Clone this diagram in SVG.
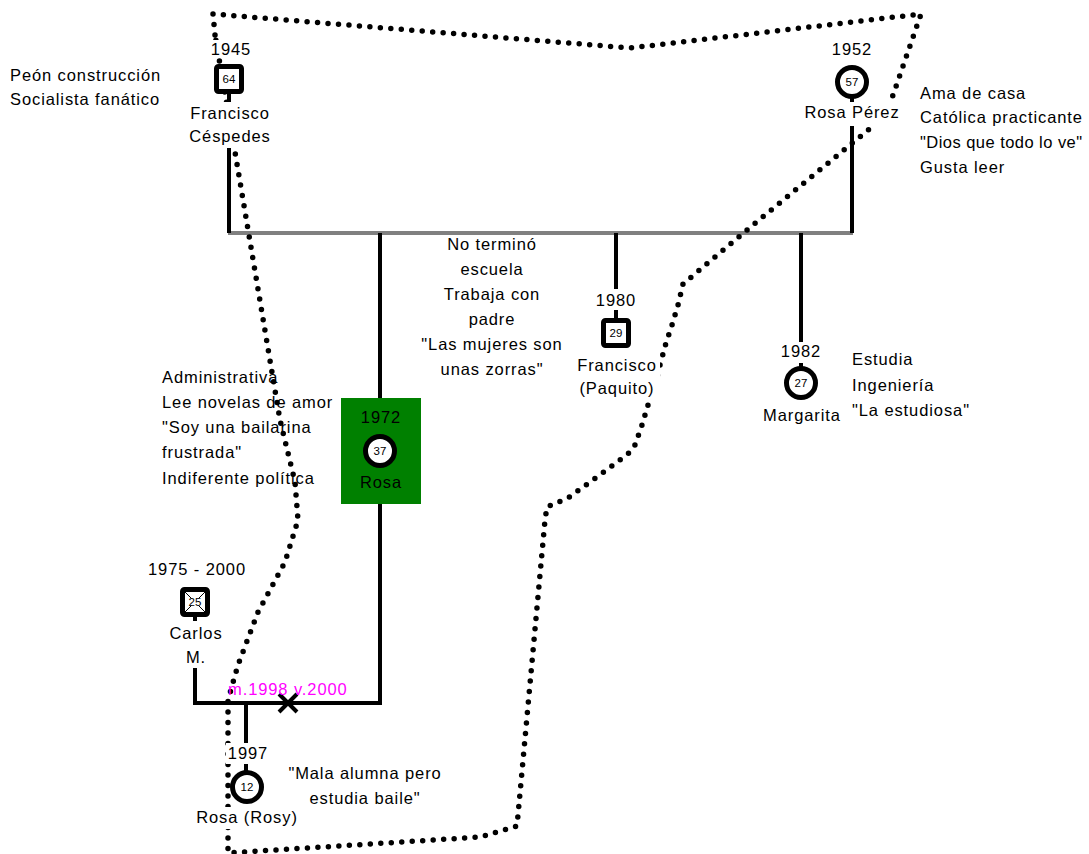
<svg xmlns="http://www.w3.org/2000/svg" width="1089" height="854" viewBox="0 0 1089 854">
<style>
.t{font-family:"Liberation Sans",Arial,sans-serif;font-size:16.5px;letter-spacing:0.9px;fill:#000}
.c{text-anchor:middle}
.n{font-family:"Liberation Sans",Arial,sans-serif;font-size:11.5px;fill:#000;text-anchor:middle}
.m{fill:#ff00ff}
.ln{fill:none;stroke:#000;stroke-width:4}
.gr{fill:none;stroke:#808080;stroke-width:4}
.lb{fill:#fff}
.sq{fill:#fff;stroke:#000;stroke-width:5}
.ci{fill:#fff;stroke:#000;stroke-width:5}
.dot{fill:none;stroke:#000;stroke-width:5.5;stroke-linecap:round;stroke-linejoin:round;stroke-dasharray:0 10.5}
.thin{stroke:#000;stroke-width:1}
</style>
<rect width="1089" height="854" fill="#fff"/>
<g id="connectors">
<path class="gr" d="M228,233 H853"/>
<path class="ln" d="M229,93 V233"/>
<path class="ln" d="M852,97 V233"/>
<path class="ln" d="M380,233 V704"/>
<path class="ln" d="M616,233 V320"/>
<path class="ln" d="M801,233 V370"/>
<path class="ln" d="M195,616 V703 H382"/>
<path class="ln" d="M246,703 V772"/>
<path class="ln" d="M279,694 L297,712 M297,694 L279,712"/>
</g>
<g id="boundary">
<path class="dot" d="M215,35 L213,14 L630,48 L921,14 L892,98 L873,126 L753,225 L683,284 L678,305 L672,325 L666,343 L660,365 L655,385 L648,405 L642,425 L635,445 L628,454 L608,469 L568,498 L547,507 L545,520 L517,826 L480,837 L228,853 L228,700 L238,665 L258,612 L285,562 L298,520 L295,482 L280,420 L235,152 Z"/>
</g>
<g id="francisco-cespedes">
<rect class="lb" x="211" y="40" width="40" height="18"/>
<text class="t c" x="231" y="55">1945</text>
<rect class="sq" x="216.5" y="66.5" width="25" height="25" rx="2"/>
<text class="n" x="229" y="83">64</text>
<rect class="lb" x="187" y="102" width="86" height="46"/>
<text class="t c" x="230" y="119">Francisco</text>
<text class="t c" x="230" y="142">Céspedes</text>
</g>
<g id="rosa-perez">
<rect class="lb" x="831" y="40" width="42" height="18"/>
<text class="t c" x="852" y="55">1952</text>
<circle class="ci" cx="852" cy="82" r="14.5"/>
<text class="n" x="852" y="86">57</text>
<rect class="lb" x="802" y="102" width="99" height="24"/>
<text class="t c" x="852" y="118">Rosa Pérez</text>
</g>
<g id="rosa">
<rect x="341" y="398" width="80" height="106" fill="#008000"/>
<text class="t c" x="381" y="423">1972</text>
<circle class="ci" cx="380" cy="451" r="14.5"/>
<text class="n" x="380" y="455">37</text>
<text class="t c" x="381" y="488">Rosa</text>
</g>
<g id="francisco-paquito">
<rect class="lb" x="595" y="289" width="42" height="21"/>
<text class="t c" x="616" y="306">1980</text>
<rect class="sq" x="603.5" y="320.5" width="25" height="25" rx="2"/>
<text class="n" x="616" y="337">29</text>
<rect class="lb" x="574" y="356" width="86" height="44"/>
<text class="t c" x="617" y="371">Francisco</text>
<text class="t c" x="617" y="394">(Paquito)</text>
</g>
<g id="margarita">
<rect class="lb" x="780" y="342" width="42" height="21"/>
<text class="t c" x="801" y="357">1982</text>
<circle class="ci" cx="801" cy="383" r="14.5"/>
<text class="n" x="801" y="387">27</text>
<text class="t c" x="802" y="421">Margarita</text>
</g>
<g id="carlos">
<rect class="lb" x="146" y="560" width="102" height="20"/>
<text class="t c" x="197" y="575">1975 - 2000</text>
<rect class="sq" x="182.5" y="589.5" width="25" height="25" rx="2"/>
<path class="thin" d="M185,592 l6.5,6.5 M205,592 l-6.5,6.5 M185,612 l6.5,-6.5 M205,612 l-6.5,-6.5"/>
<text class="n" x="195" y="606">25</text>
<rect class="lb" x="166" y="621" width="60" height="47"/>
<text class="t c" x="196" y="639">Carlos</text>
<text class="t c" x="196" y="663">M.</text>
</g>
<g id="rosy">
<rect class="lb" x="226" y="743" width="44" height="21"/>
<text class="t c" x="248" y="759">1997</text>
<circle class="ci" cx="247" cy="787" r="14.5"/>
<text class="n" x="247" y="791">12</text>
<rect class="lb" x="194" y="807" width="106" height="22"/>
<text class="t c" x="247" y="823">Rosa (Rosy)</text>
</g>
<g id="marriage-label">
<text class="t m" x="228" y="695">m.1998 v.2000</text>
</g>
<g id="notes">
<text class="t" x="10" y="81">Peón construcción</text>
<text class="t" x="10" y="105">Socialista fanático</text>
<text class="t" x="920" y="99">Ama de casa</text>
<text class="t" x="920" y="123">Católica practicante</text>
<text class="t" x="920" y="148" textLength="163" lengthAdjust="spacing">"Dios que todo lo ve"</text>
<text class="t" x="920" y="173">Gusta leer</text>
<text class="t c" x="492" y="250">No terminó</text>
<text class="t c" x="492" y="275">escuela</text>
<text class="t c" x="492" y="300">Trabaja con</text>
<text class="t c" x="492" y="325">padre</text>
<text class="t c" x="492" y="350">"Las mujeres son</text>
<text class="t c" x="492" y="375">unas zorras"</text>
<text class="t" x="162" y="383">Administrativa</text>
<text class="t" x="162" y="408">Lee novelas de amor</text>
<text class="t" x="162" y="433">"Soy una bailarina</text>
<text class="t" x="162" y="458">frustrada"</text>
<text class="t" x="162" y="484">Indiferente política</text>
<text class="t" x="852" y="365">Estudia</text>
<text class="t" x="852" y="391">Ingeniería</text>
<text class="t" x="852" y="416">"La estudiosa"</text>
<text class="t c" x="365" y="779">"Mala alumna pero</text>
<text class="t c" x="365" y="804">estudia baile"</text>
</g>
</svg>
